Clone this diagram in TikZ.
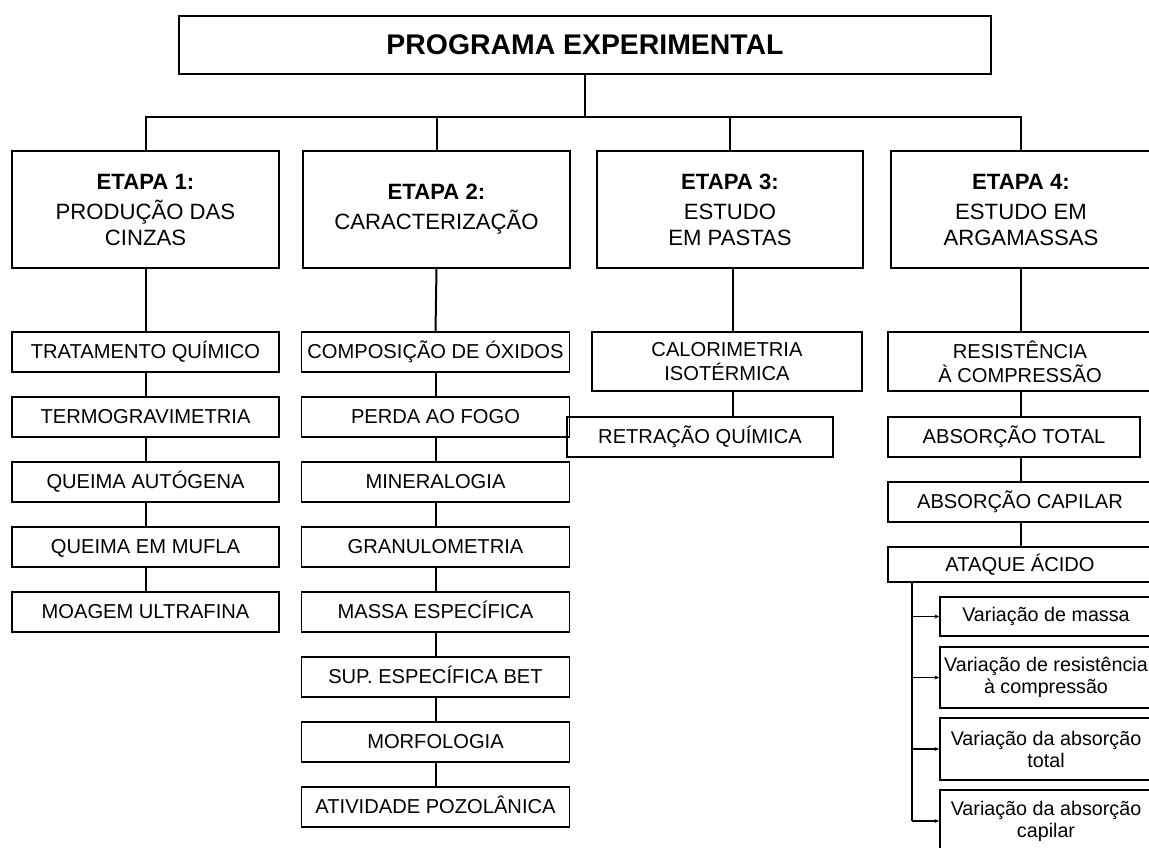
\documentclass[tikz,border=0pt]{standalone}
\usepackage{fontspec}
\setmainfont{Liberation Sans}
\usetikzlibrary{arrows.meta}
\tikzset{
  box/.style={draw, line width=1.3pt, inner sep=0pt, align=center},
  topbox/.style={box, font=\fontsize{21.3}{24}\selectfont\bfseries, minimum width=609pt, minimum height=43.5pt},
  stage/.style={box, font=\fontsize{16.6}{19.5}\selectfont, minimum width=200pt, minimum height=87.75pt},
  sub/.style={box, font=\fontsize{15.1}{18}\selectfont, minimum height=30pt},
  one/.style={sub, text height=10.9pt, text depth=0.6pt},
  var/.style={box, font=\fontsize{14.8}{16.5}\selectfont, minimum width=159pt},
  link/.style={line width=1.5pt},
  thin/.style={line width=0.8pt},
  arr/.style={thin, -{Stealth[length=3.5pt,width=3pt]}}
}
\begin{document}
\begin{tikzpicture}[x=0.75pt, y=-0.75pt]
\clip (0,0) rectangle (1149,847);
\fill[white] (0,0) rectangle (1149,847);
% top
\node[topbox] (top) at (585,45) {PROGRAMA EXPERIMENTAL};
\coordinate (bus) at (585,117);
% stages
\node[stage] (e1) at (145.5,209.5) {\textbf{ETAPA 1:}\\[3pt]PRODUÇÃO DAS\\CINZAS};
\node[stage] (e2) at (436.5,209.5) {\textbf{ETAPA 2:}\\[3pt]CARACTERIZAÇÃO};
\node[stage] (e3) at (730,209.5) {\textbf{ETAPA 3:}\\[3pt]ESTUDO\\EM PASTAS};
\node[stage, minimum width=195pt] (e4) at (1021,209.5) {\textbf{ETAPA 4:}\\[3pt]ESTUDO EM\\ARGAMASSAS};
% column 1
\node[one, minimum width=200pt] (a1) at (145.5,352) {TRATAMENTO QUÍMICO};
\node[one, minimum width=200pt] (a2) at (145.5,417) {TERMOGRAVIMETRIA};
\node[one, minimum width=200pt] (a3) at (145.5,482) {QUEIMA AUTÓGENA};
\node[one, minimum width=200pt] (a4) at (145.5,547) {QUEIMA EM MUFLA};
\node[one, minimum width=200pt] (a5) at (145.5,612) {MOAGEM ULTRAFINA};
% column 2
\node[one, minimum width=201pt] (b1) at (435.5,352) {COMPOSIÇÃO DE ÓXIDOS};
\node[one, minimum width=201pt] (b2) at (435.5,417) {PERDA AO FOGO};
\node[one, minimum width=201pt] (b3) at (435.5,482) {MINERALOGIA};
\node[one, minimum width=201pt] (b4) at (435.5,547) {GRANULOMETRIA};
\node[one, minimum width=201pt] (b5) at (435.5,612) {MASSA ESPECÍFICA};
\node[one, minimum width=201pt] (b6) at (435.5,677) {SUP. ESPECÍFICA BET};
\node[one, minimum width=201pt] (b7) at (435.5,742) {MORFOLOGIA};
\node[one, minimum width=201pt] (b8) at (435.5,807) {ATIVIDADE POZOLÂNICA};
% column 3
\node[sub, minimum width=202pt, minimum height=44pt] (c1) at (727,361.5) {CALORIMETRIA\\ISOTÉRMICA};
\node[one, minimum width=200pt] (c2) at (700,437) {RETRAÇÃO QUÍMICA};
% column 4
\node[sub, minimum width=198pt, minimum height=44pt] (d1) at (1020,361.5) {RESISTÊNCIA\\À COMPRESSÃO};
\node[one, minimum width=189pt] (d2) at (1014,437) {ABSORÇÃO TOTAL};
\node[one, minimum width=198pt] (d3) at (1020,502) {ABSORÇÃO CAPILAR};
\node[one, minimum width=198pt, minimum height=26pt] (d4) at (1020,564.5) {ATAQUE ÁCIDO};
% acid attack results
\node[var, minimum height=29pt] (v1) at (1046,616.5) {Variação de massa};
\node[var, minimum height=46pt] (v2) at (1046,677.5) {Variação de resistência\\à compressão};
\node[var, minimum height=46pt] (v3) at (1046,749) {Variação da absorção\\total};
\node[var, minimum height=46pt] (v4) at (1046,821) {Variação da absorção\\capilar};
% connectors top
\draw[link] (top.south) -- (bus);
\draw[link] (e1.north) |- (bus);
\draw[link] (e4.north) |- (bus);
\draw[link] (e2.north) -- (e2.north |- bus);
\draw[link] (e3.north) -- (e3.north |- bus);
% column connectors
\draw[link] (e1.south) -- (a1.north);
\draw[link] (a1.south) -- (a2.north);
\draw[link] (a2.south) -- (a3.north);
\draw[link] (a3.south) -- (a4.north);
\draw[link] (a4.south) -- (a5.north);
\draw[link] (e2.south) -- (b1.north);
\draw[link] (b1.south) -- (b2.north);
\draw[link] (b2.south) -- (b3.north);
\draw[link] (b3.south) -- (b4.north);
\draw[link] (b4.south) -- (b5.north);
\draw[link] (b5.south) -- (b6.north);
\draw[link] (b6.south) -- (b7.north);
\draw[link] (b7.south) -- (b8.north);
\draw[link] ([xshift=2.25pt]e3.south) -- ([xshift=2.25pt]e3.south |- c1.north);
\draw[link] ([xshift=2.25pt]e3.south |- c1.south) -- ([xshift=2.25pt]e3.south |- c2.north);
\draw[link] (e4.south) -- (e4.south |- d1.north);
\draw[link] (e4.south |- d1.south) -- (e4.south |- d2.north);
\draw[link] (e4.south |- d2.south) -- (e4.south |- d3.north);
\draw[link] (e4.south |- d3.south) -- (e4.south |- d4.north);
% acid attack branch
\coordinate (tr) at (912,582);
\draw[thin] (tr) -- (tr |- v4.west);
\draw[arr] (tr |- v1.west) -- (v1.west);
\draw[arr] (tr |- v2.west) -- (v2.west);
\draw[arr] (tr |- v3.west) -- (v3.west);
\draw[arr] (tr |- v4.west) -- (v4.west);
\end{tikzpicture}
\end{document}
